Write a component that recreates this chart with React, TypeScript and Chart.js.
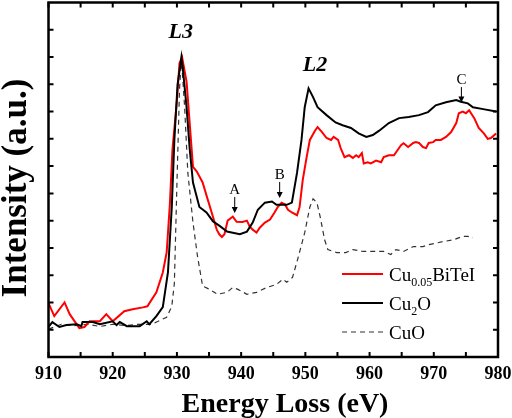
import React, { useEffect, useRef } from "react";
import { Chart, registerables } from "chart.js";

Chart.register(...registerables);

// ---- Data ----
const cuBiTeIEnergy = [910.0, 910.9, 912.5, 913.3, 914.8, 915.6, 916.4, 918.0, 919.0, 920.0, 921.8, 923.1, 924.7, 925.4, 926.8, 927.8, 928.4, 928.9, 929.3, 930.0, 930.4, 930.8, 931.5, 932.5, 933.1, 934.0, 934.8, 935.6, 936.2, 936.6, 937.0, 937.4, 937.9, 938.7, 939.3, 940.2, 940.9, 941.3, 941.8, 942.4, 942.9, 943.7, 944.5, 945.2, 945.7, 946.3, 946.8, 947.3, 947.9, 948.7, 949.1, 949.6, 950.2, 950.7, 951.5, 951.9, 952.6, 953.3, 954.0, 954.4, 955.1, 955.5, 956.1, 956.8, 957.4, 957.9, 958.3, 958.8, 959.1, 959.7, 960.2, 961.0, 961.8, 962.2, 963.0, 963.8, 964.4, 964.9, 965.3, 966.0, 966.8, 967.2, 967.7, 968.3, 968.8, 969.2, 969.9, 970.3, 971.1, 971.9, 972.7, 973.5, 973.9, 974.5, 975.0, 975.5, 976.3, 977.0, 977.8, 978.4, 978.9, 979.7];
const cuBiTeIIntensity = [1.97, 1.5, 2.0, 1.57, 1.06, 1.1, 1.31, 1.31, 1.57, 1.31, 1.68, 1.75, 1.82, 1.86, 2.37, 3.1, 3.83, 5.6, 7.6, 9.4, 10.77, 11.0, 10.1, 6.97, 6.8, 6.4, 5.77, 5.15, 4.67, 4.5, 4.4, 4.5, 5.0, 5.15, 4.96, 4.95, 5.0, 4.8, 4.67, 4.56, 4.74, 4.93, 5.04, 5.3, 5.5, 5.66, 5.6, 5.4, 5.3, 5.2, 5.5, 6.5, 7.33, 7.96, 8.3, 8.43, 8.25, 8.03, 7.96, 8.07, 7.96, 7.66, 7.33, 7.4, 7.3, 7.4, 7.33, 7.48, 7.1, 7.14, 7.1, 7.2, 7.14, 7.33, 7.4, 7.4, 7.6, 7.77, 7.84, 7.7, 7.85, 7.88, 7.85, 7.7, 7.66, 7.85, 7.88, 7.96, 7.96, 8.07, 8.25, 8.58, 8.94, 9.0, 8.94, 9.05, 8.76, 8.4, 8.2, 8.0, 8.03, 8.2];

const cu2OEnergy = [910.0, 910.6, 911.7, 912.8, 914.4, 915.1, 915.3, 916.9, 918.0, 920.0, 920.6, 921.1, 922.2, 924.2, 925.3, 925.7, 926.8, 927.8, 928.6, 929.2, 929.6, 930.1, 930.7, 930.9, 931.5, 932.0, 932.5, 933.5, 934.6, 935.6, 936.7, 937.8, 938.7, 939.8, 940.9, 941.8, 942.6, 943.7, 944.8, 945.5, 946.3, 947.1, 947.9, 948.7, 949.4, 949.9, 950.5, 951.2, 951.9, 953.3, 954.7, 955.8, 957.1, 958.3, 959.5, 960.5, 961.5, 963.0, 964.6, 966.1, 967.7, 969.1, 970.3, 971.9, 973.5, 974.2, 975.3, 976.1, 977.7, 979.7];
const cu2OIntensity = [1.1, 1.28, 1.1, 1.17, 1.2, 1.13, 1.28, 1.28, 1.2, 1.31, 1.17, 1.28, 1.13, 1.13, 1.31, 1.2, 1.5, 1.83, 3.1, 5.5, 7.96, 10.0, 11.0, 10.62, 9.16, 7.6, 6.4, 5.5, 5.3, 4.98, 4.8, 4.6, 4.56, 4.5, 4.6, 4.93, 5.4, 5.66, 5.7, 5.58, 5.58, 5.58, 5.66, 6.75, 7.96, 9.16, 9.85, 9.53, 9.16, 8.87, 8.6, 8.5, 8.4, 8.2, 8.07, 8.14, 8.3, 8.58, 8.76, 8.8, 8.87, 8.98, 9.23, 9.34, 9.42, 9.36, 9.3, 9.16, 9.09, 9.0];

const cuOEnergy = [910.0, 912.0, 914.0, 916.0, 918.0, 920.0, 922.0, 924.0, 926.0, 927.0, 928.4, 929.2, 929.6, 930.0, 930.4, 930.7, 931.2, 931.7, 932.5, 933.2, 934.0, 935.1, 936.3, 937.8, 938.7, 939.5, 940.9, 942.4, 944.0, 945.5, 946.5, 947.1, 948.0, 948.8, 949.9, 950.7, 951.2, 951.8, 952.3, 953.0, 953.5, 954.9, 956.3, 957.4, 959.0, 961.0, 962.2, 963.3, 964.1, 965.3, 966.8, 968.3, 969.2, 971.4, 973.1, 974.5, 975.3, 976.1];
const cuOIntensity = [1.02, 1.2, 1.15, 1.2, 1.12, 1.2, 1.15, 1.2, 1.2, 1.3, 1.46, 1.86, 2.7, 6.35, 9.8, 10.95, 9.16, 6.75, 4.93, 3.7, 2.6, 2.48, 2.3, 2.37, 2.55, 2.48, 2.3, 2.37, 2.55, 2.66, 2.85, 2.74, 2.92, 3.58, 4.56, 5.5, 5.8, 5.66, 5.15, 4.3, 3.94, 3.83, 3.83, 3.94, 3.87, 3.87, 3.87, 3.76, 3.94, 3.87, 4.05, 4.05, 4.12, 4.23, 4.3, 4.42, 4.42, 4.38];

const xTickValues = [910, 915, 920, 925, 930, 935, 940, 945, 950, 955, 960, 965, 970, 975, 980];
const yTickValues = [1, 2, 3, 4, 5, 6, 7, 8, 9, 10, 11, 12];

// edge labels
const edgeLabels = ["L3", "L2"];
const edgeEnergies = [930.6, 951.5];
const edgeLevels = [11.7, 10.5];

// feature markers (label, energy, arrow top, arrow tip)
const featureLabels = ["A", "B", "C"];
const featureEnergies = [939.0, 946.0, 974.3];
const featureArrowTop = [5.87, 6.42, 9.9];
const featureArrowTip = [5.28, 5.83, 9.33];

const legendLabels = [
  { main: "Cu", sub: "0.05", rest: "BiTeI" },
  { main: "Cu", sub: "2", rest: "O" },
  { main: "CuO", sub: "", rest: "" },
];

const SERIF = "'Liberation Serif', 'Times New Roman', serif";

const toXY = (xs: number[], ys: number[]) => xs.map((x, i) => ({ x, y: ys[i] }));

const decorPlugin = {
  id: "decor",
  afterDatasetsDraw(chart: any) {
    const { ctx, chartArea, scales } = chart;
    const { left, right, top, bottom } = chartArea;
    const xs = scales.x;
    const ys = scales.y;
    ctx.save();

    // frame
    ctx.strokeStyle = "#000";
    ctx.lineWidth = 2.5;
    ctx.strokeRect(left, top, right - left, bottom - top);

    // inward ticks on all sides
    ctx.lineWidth = 2;
    ctx.beginPath();
    for (const v of xTickValues) {
      const px = xs.getPixelForValue(v);
      ctx.moveTo(px, bottom);
      ctx.lineTo(px, bottom - 5);
      ctx.moveTo(px, top);
      ctx.lineTo(px, top + 5);
    }
    for (const v of yTickValues) {
      const py = ys.getPixelForValue(v);
      ctx.moveTo(left, py);
      ctx.lineTo(left + 5, py);
      ctx.moveTo(right, py);
      ctx.lineTo(right - 5, py);
    }
    ctx.stroke();

    // edge labels
    ctx.fillStyle = "#000";
    ctx.textAlign = "center";
    ctx.textBaseline = "alphabetic";
    ctx.font = `italic bold 22px ${SERIF}`;
    edgeLabels.forEach((t, i) => {
      ctx.fillText(t, xs.getPixelForValue(edgeEnergies[i]), ys.getPixelForValue(edgeLevels[i]));
    });

    // feature markers
    ctx.font = `15px ${SERIF}`;
    ctx.lineWidth = 1;
    featureLabels.forEach((t, i) => {
      const px = xs.getPixelForValue(featureEnergies[i]);
      const yTop = ys.getPixelForValue(featureArrowTop[i]);
      const yTip = ys.getPixelForValue(featureArrowTip[i]);
      ctx.fillText(t, px, yTop - 3);
      ctx.beginPath();
      ctx.moveTo(px, yTop);
      ctx.lineTo(px, yTip - 5);
      ctx.stroke();
      ctx.beginPath();
      ctx.moveTo(px - 3, yTip - 6);
      ctx.lineTo(px + 3, yTip - 6);
      ctx.lineTo(px, yTip);
      ctx.closePath();
      ctx.fill();
    });

    // legend
    const colors = ["#ff0000", "#000000", "#333333"];
    const widths = [2, 2, 1.2];
    const dashes = [[], [], [5, 4]];
    const rowsY = [bottom - 83, bottom - 54, bottom - 25];
    const lx0 = right - 156;
    const lx1 = right - 115;
    const tx = right - 109;
    legendLabels.forEach((lab, i) => {
      ctx.strokeStyle = colors[i];
      ctx.lineWidth = widths[i];
      ctx.setLineDash(dashes[i]);
      ctx.beginPath();
      ctx.moveTo(lx0, rowsY[i]);
      ctx.lineTo(lx1, rowsY[i]);
      ctx.stroke();
      ctx.setLineDash([]);
      ctx.fillStyle = "#000";
      ctx.textAlign = "left";
      ctx.textBaseline = "alphabetic";
      const base = rowsY[i] + 7;
      let x = tx;
      ctx.font = `19px ${SERIF}`;
      ctx.fillText(lab.main, x, base);
      x += ctx.measureText(lab.main).width;
      if (lab.sub) {
        ctx.font = `12px ${SERIF}`;
        ctx.fillText(lab.sub, x, base + 5);
        x += ctx.measureText(lab.sub).width;
      }
      if (lab.rest) {
        ctx.font = `19px ${SERIF}`;
        ctx.fillText(lab.rest, x, base);
      }
    });

    // axis titles
    ctx.fillStyle = "#000";
    ctx.textAlign = "center";
    ctx.textBaseline = "alphabetic";
    ctx.font = `bold 28px ${SERIF}`;
    ctx.fillText("Energy Loss (eV)", 285, 412);
    ctx.save();
    ctx.translate(26, 188);
    ctx.rotate(-Math.PI / 2);
    ctx.font = `bold 35px ${SERIF}`;
    ctx.fillText("Intensity (a.u.)", 0, 0);
    ctx.restore();

    ctx.restore();
  },
};

export default function App() {
  const canvasRef = useRef<HTMLCanvasElement | null>(null);

  useEffect(() => {
    if (!canvasRef.current) return;
    const chart = new Chart(canvasRef.current, {
      type: "line",
      data: {
        datasets: [
          {
            label: "Cu0.05BiTeI",
            data: toXY(cuBiTeIEnergy, cuBiTeIIntensity),
            borderColor: "#ff0000",
            borderWidth: 2,
            pointRadius: 0,
            tension: 0,
            order: 2,
          },
          {
            label: "Cu2O",
            data: toXY(cu2OEnergy, cu2OIntensity),
            borderColor: "#000000",
            borderWidth: 2,
            pointRadius: 0,
            tension: 0,
            order: 1,
          },
          {
            label: "CuO",
            data: toXY(cuOEnergy, cuOIntensity),
            borderColor: "#333333",
            borderWidth: 1.2,
            borderDash: [5, 4],
            pointRadius: 0,
            tension: 0,
            order: 3,
          },
        ],
      },
      options: {
        responsive: true,
        maintainAspectRatio: false,
        animation: false,
        layout: { padding: { left: 48.5, right: 14, top: 2.5, bottom: 0 } },
        plugins: {
          legend: { display: false },
          tooltip: { enabled: false },
        },
        scales: {
          x: {
            type: "linear",
            min: 910,
            max: 980,
            grid: { display: false, drawTicks: false },
            border: { display: false },
            ticks: {
              stepSize: 10,
              color: "#000",
              padding: 7,
              font: { family: SERIF, size: 18, weight: "bold" },
            },
            afterFit: (s: any) => {
              s.height = 61;
              s.paddingLeft = 0;
              s.paddingRight = 0;
            },
          },
          y: {
            display: false,
            min: 0,
            max: 13,
          },
        },
      },
      plugins: [decorPlugin],
    });
    return () => chart.destroy();
  }, []);

  return (
    <div style={{ position: "absolute", left: 0, top: 0, width: 512, height: 418, background: "#fff" }}>
      <canvas ref={canvasRef} />
    </div>
  );
}
